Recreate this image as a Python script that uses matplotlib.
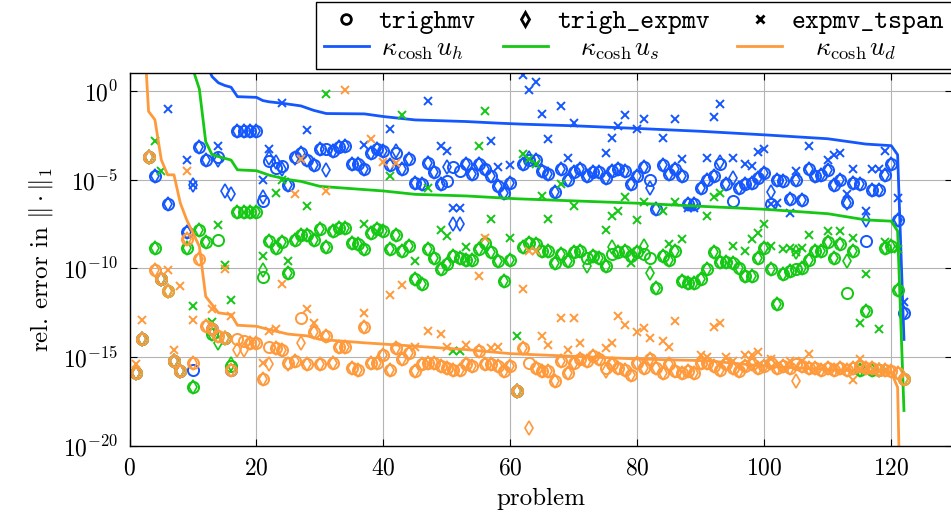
import numpy as np
import matplotlib
matplotlib.use('Agg')
import matplotlib.pyplot as plt
from matplotlib.lines import Line2D
from matplotlib.font_manager import FontProperties

nan = np.nan

# problem index
problems = np.arange(1, 123)

# log10 of relative errors
# u_h (blue)
uh_trighmv = [
    -15.9, -14.0, -3.75, -4.78, -10.6, -6.38, -15.2, -15.8, -7.97, -15.7,
    -3.17, -3.9, -13.4, -3.7, -13.9, -15.7, -2.29, -2.29, -2.29, -2.29,
    -6.23, -3.97, -4.35, -4.26, -5.3, -3.7, -3.5, -3.9, -4.2, -3.25,
    -3.3, -3.4, -3.15, -3.1, -4.1, -4.1, -4.4, -3.5, -3.3, -3.4,
    -4.2, -3.5, -4.4, -3.85, -5.17, -5.26, -4.04, -4.6, -5.26, -5.07,
    -4.3, -4.5, -4.1, -4.7, -4.1, -4.4, -4.8, -5.36, -5.77, -5.17,
    -16.9, -4.14, -3.9, -3.9, -4.5, -4.7, -5.7, -4.4, -5.0, -4.6,
    -4.4, -4.8, -4.6, -4.6, -4.9, -4.5, -4.4, -4.5, -5.26, -4.8,
    -4.3, -5.0, -6.67, -4.2, -4.7, -4.4, -4.8, -6.4, -6.4, -5.45,
    -5.0, -4.8, -4.14, -5.26, -6.2, -5.45, -5.26, -5.17, -4.9, -4.64,
    -6.4, -5.0, -5.1, -6.07, -5.0, -6.15, -4.4, -4.8, -4.75, -4.45,
    -5.3, -5.05, -6.25, -5.2, -5.27, -8.46, -5.57, -5.57, -4.72, -4.1,
    -7.25, -12.5]
uh_trigh_expmv = [
    -15.9, -14.0, -3.75, -4.78, -10.6, -6.38, -15.2, -15.8, -7.97, -5.3,
    -3.17, -3.9, -13.4, -3.88, -5.63, -5.82, -2.29, -2.29, -2.29, -2.29,
    -6.0, -3.8, -4.0, -4.4, -5.3, -3.8, -3.5, -3.9, -4.2, -3.25,
    -4.45, -3.4, -3.15, -3.1, -4.1, -4.1, -4.4, -3.5, -3.3, -3.4,
    -4.2, -3.4, -4.4, -3.85, -5.17, -5.26, -4.04, -4.6, -5.26, -4.3,
    -7.5, -7.5, -4.1, -4.7, -4.1, -4.4, -4.8, -5.36, -5.77, -5.17,
    -16.9, -4.14, -3.8, -3.9, -4.5, -4.7, -5.7, -4.4, -5.0, -4.6,
    -4.4, -4.8, -4.6, -4.6, -4.9, -4.5, -4.4, -4.5, -5.26, -4.8,
    -4.3, -5.45, -6.67, -4.2, -4.7, -4.4, -4.8, -6.4, -6.4, -5.45,
    -5.0, -4.8, -4.0, -5.26, -4.9, -5.45, -5.26, -5.17, -4.9, -4.64,
    -5.7, -5.0, -5.1, -6.07, -5.0, -6.15, -4.4, -4.8, -4.75, -4.45,
    -5.3, -5.05, -6.3, -5.2, -5.27, -7.25, -5.57, -5.57, -4.72, -4.1,
    -7.25, -12.5]
uh_expmv_tspan = [
    nan, nan, nan, nan, nan, -1.0, nan, nan, -3.9, -5.3,
    nan, nan, nan, -3.1, nan, nan, nan, nan, nan, nan,
    -5.0, -3.3, nan, -0.7, nan, nan, nan, -2.2, nan, nan,
    nan, nan, nan, nan, nan, nan, -3.06, nan, nan, nan,
    -2.16, nan, nan, nan, nan, nan, -0.56, nan, -3.1, -3.38,
    -6.58, -6.58, nan, nan, nan, nan, -2.82, -4.3, nan, -4.2,
    nan, 0.88, 0.06, 0.5, -1.3, -2.7, nan, -0.88, -3.76, -1.8,
    nan, nan, nan, nan, -3.5, -2.63, -1.97, -1.37, nan, -2.16,
    -1.6, nan, nan, -2.63, nan, -1.6, -3.85, -6.6, -6.6, nan,
    -3.76, -1.5, -0.75, nan, -3.76, nan, -4.14, -4.23, -3.44, -3.3,
    -6.4, -6.3, nan, -6.9, -4.5, nan, -3.1, nan, nan, -3.9,
    -3.6, -3.5, -5.83, -4.4, nan, -6.77, -4.4, -4.4, -3.4, nan,
    -6.03, -11.9]

# u_s (green)
us_trighmv = [
    -15.9, -14.0, -3.75, -8.86, -10.6, -11.3, -15.2, -15.8, -8.86, -16.7,
    -7.86, -8.54, -13.7, -8.4, -13.9, -15.5, -6.85, -6.85, -6.85, -6.85,
    -10.5, -8.44, -8.86, -8.5, -10.26, -8.4, -8.1, -8.1, -8.4, -7.8,
    -8.8, -7.9, -7.7, -7.7, -8.55, -8.65, -8.9, -8.0, -7.8, -7.9,
    -8.9, -8.1, -9.0, -8.75, -10.6, -10.9, -8.9, -9.4, -10.06, -9.77,
    -9.3, -9.4, -9.5, -9.5, -8.9, -8.55, -9.1, -9.6, -10.7, -9.5,
    -16.9, -8.8, -8.55, -8.6, -9.0, -9.0, -9.7, -9.2, -9.6, -9.1,
    -9.0, -9.4, -9.3, -9.4, -9.87, -9.2, -9.1, -9.0, -9.3, -9.1,
    -9.2, -9.4, -11.1, -9.3, -9.5, -9.0, -10.7, -10.8, -10.8, -10.6,
    -10.06, -9.08, -9.64, -9.64, -9.68, -9.96, -10.4, -10.4, -9.4, -8.83,
    -10.06, -12.0, -10.34, -10.15, -10.06, -9.96, -9.5, -9.0, -9.0, -8.52,
    -9.4, -8.65, -11.37, -9.03, -15.7, -12.4, -15.7, -15.7, -8.84, -8.75,
    -11.24, -16.2]
us_trigh_expmv = [
    -15.9, -14.0, -3.75, -8.86, -10.6, -11.3, -15.2, -15.8, -8.86, -16.7,
    -7.86, -8.54, -13.7, -14.2, -13.9, -15.4, -6.85, -6.85, -6.85, -6.85,
    -10.1, -8.44, -8.86, -8.5, -10.26, -8.4, -8.1, -8.1, -8.4, -7.8,
    -8.8, -7.9, -7.7, -7.7, -8.55, -8.65, -8.9, -8.0, -7.8, -7.9,
    -8.9, -8.1, -9.0, -8.75, -10.6, -10.9, -8.9, -9.4, -10.06, -9.77,
    -9.3, -9.4, -9.5, -9.5, -8.9, -8.55, -9.1, -9.6, -10.7, -9.5,
    -16.9, -8.8, -8.55, -8.6, -9.0, -9.0, -9.7, -9.2, -9.6, -9.1,
    -9.0, -9.87, -9.3, -9.4, -9.87, -8.8, -9.1, -9.0, -9.3, -9.1,
    -8.74, -10.25, -11.1, -9.3, -9.5, -9.0, -10.7, -10.8, -10.8, -10.6,
    -10.06, -9.08, -9.64, -9.64, -9.68, -9.96, -10.4, -10.4, -9.4, -8.83,
    -10.06, -12.0, -10.34, -10.15, -9.1, -9.96, -9.5, -9.0, -9.0, -8.52,
    -9.4, -8.65, -9.6, -9.03, -15.7, -12.4, -15.7, -15.7, -8.84, -8.75,
    -11.24, -16.2]
us_expmv_tspan = [
    nan, nan, nan, -2.85, -4.54, nan, nan, nan, nan, -12.1,
    nan, nan, -13.0, -7.54, -9.8, -11.8, nan, nan, nan, nan,
    -9.3, nan, -5.73, -5.0, -9.6, nan, nan, -6.5, nan, nan,
    -0.2, nan, nan, nan, nan, nan, -7.5, nan, nan, nan,
    -4.8, nan, -1.37, nan, -9.6, nan, -5.5, nan, -7.84, -8.2,
    -14.66, -14.66, -8.8, nan, -3.1, -1.13, -7.2, nan, nan, -8.3,
    -13.8, -3.57, -3.85, -4.1, -5.9, -7.2, nan, -5.26, nan, -6.5,
    nan, nan, nan, nan, -7.84, -7.05, -6.77, -5.96, -9.7, -7.27,
    -6.26, nan, nan, -6.77, -8.65, -6.26, -8.37, nan, nan, nan,
    -7.05, -6.0, -5.77, nan, -8.74, nan, -9.0, -8.36, -8.0, -7.5,
    -8.74, nan, -8.93, -8.83, -9.1, -8.83, -8.14, nan, nan, -7.9,
    nan, -7.9, nan, -8.3, -13.06, -10.3, nan, -13.44, -8.5, nan,
    -8.93, nan]

# u_d (orange)
ud_trighmv = [
    -15.9, -14.0, -3.75, -10.1, -10.6, -11.3, -15.2, -15.8, -8.33, -15.3,
    -9.46, -13.26, -13.4, -13.8, -13.9, -15.7, -14.0, -14.1, -14.2, -14.2,
    -16.2, -14.4, -14.5, -14.6, -15.3, -15.2, -12.8, -15.4, -13.6, -15.4,
    -13.8, -15.3, -14.4, -14.4, -15.6, -15.7, -13.3, -15.3, -15.3, -14.9,
    -15.7, -14.5, -15.1, -14.75, -15.8, -15.4, -15.3, -15.3, -15.5, -15.6,
    -15.7, -15.7, -15.4, -15.5, -14.66, -15.4, -15.4, -15.5, -15.8, -15.5,
    -16.9, -14.5, -15.3, -15.6, -15.8, -15.8, -16.35, -15.2, -15.9, -15.3,
    -15.1, -15.2, -14.95, -15.1, -15.6, -15.4, -15.6, -15.7, -16.0, -15.3,
    -15.6, -15.1, -15.6, -15.9, -15.4, -15.8, -15.9, -15.8, -15.9, -15.3,
    -15.3, -15.5, -15.7, -15.4, -15.6, -15.8, -15.5, -15.4, -15.6, -15.5,
    -15.3, -15.6, -15.5, -15.6, -15.4, -15.5, -15.6, -15.6, -15.7, -15.6,
    -15.7, -15.6, -15.7, -15.6, -15.5, -15.6, -15.6, -15.7, -15.7, -15.8,
    -15.9, -16.2]
ud_trigh_expmv = [
    -15.9, -14.0, -3.75, -10.1, -10.6, -11.3, -15.2, -15.8, -8.33, -15.3,
    -9.46, -13.26, -13.4, -13.8, -13.9, -15.7, -14.6, -14.6, -14.2, -14.2,
    -16.2, -15.4, -14.5, -14.6, -15.4, -15.2, -14.2, -15.4, -13.6, -15.4,
    -13.8, -15.3, -14.4, -14.4, -15.6, -15.7, -13.3, -15.3, -15.3, -14.9,
    -15.7, -14.5, -15.1, -14.75, -15.8, -15.4, -15.3, -15.3, -15.5, -15.6,
    -15.7, -15.7, -15.4, -15.5, -14.66, -15.4, -15.4, -15.5, -15.8, -15.5,
    -16.9, -14.5, -19.0, -15.6, -15.8, -15.8, -16.35, -15.2, -15.9, -15.3,
    -15.1, -15.2, -14.95, -15.1, -15.8, -15.4, -15.6, -15.7, -16.0, -15.3,
    -15.6, -15.1, -15.6, -15.9, -15.4, -15.8, -15.9, -15.8, -15.9, -15.3,
    -15.3, -15.5, -15.7, -15.4, -15.6, -15.8, -15.5, -15.4, -15.6, -15.5,
    -15.3, -15.6, -15.5, -15.6, -16.35, -15.5, -15.6, -15.6, -15.7, -15.6,
    -15.7, -15.6, -15.7, -15.6, -15.5, -15.6, -15.6, -15.7, -15.7, -15.8,
    -15.9, -16.2]
ud_expmv_tspan = [
    -15.4, -12.9, nan, nan, nan, -10.1, -14.6, -11.0, -4.54, -12.9,
    nan, nan, -12.3, nan, -10.04, -12.7, nan, nan, nan, nan,
    -15.3, -13.5, -13.4, -10.9, nan, -5.8, -3.85, -12.3, -13.06, nan,
    -5.64, nan, nan, 0.06, nan, nan, -12.5, -2.72, nan, -4.0,
    -11.5, -4.04, -10.96, nan, -14.4, nan, -13.5, nan, -13.7, -14.4,
    nan, nan, -14.3, nan, -10.4, -8.27, -14.5, -14.4, nan, nan,
    nan, -11.15, -9.0, -9.0, -13.8, -14.3, nan, -12.8, -14.6, -12.8,
    -14.2, nan, nan, nan, -14.5, -14.2, -12.7, -13.2, nan, -13.6,
    -13.35, -13.9, nan, -14.1, -14.4, -12.97, nan, nan, nan, -14.85,
    -15.0, -13.3, -13.1, -15.0, -15.2, nan, -14.9, -14.9, -14.7, nan,
    -15.1, nan, nan, -15.2, nan, -15.2, -14.8, nan, nan, nan,
    nan, nan, nan, -16.3, -15.1, nan, nan, nan, nan, nan,
    nan, nan]

# kappa_cosh * u curves (vertices)
kh_p = [12, 13, 14, 15, 16, 17, 20, 21, 22, 24, 27, 29, 31, 37, 40, 45, 53, 58,
        62, 70, 80, 90, 100, 110, 116, 120, 121, 122]
kh_e = [1.6, 0.8, 0.45, 0.3, 0.2, -0.33, -0.37, -0.55, -0.62, -0.7, -0.85, -1.1,
        -1.28, -1.3, -1.45, -1.64, -1.73, -1.82, -1.88, -1.97, -2.12, -2.28,
        -2.48, -2.7, -3.0, -3.09, -3.6, -14.0]
ks_p = [10, 11, 12, 13, 16, 17, 20, 22, 25, 27, 30, 40, 45, 53, 61, 80, 91, 100,
        110, 116, 120, 121, 122]
ks_e = [1.2, 0.1, -2.86, -3.6, -3.9, -4.45, -4.5, -4.75, -5.0, -5.1, -5.38, -5.64,
        -5.83, -5.92, -6.08, -6.33, -6.52, -6.67, -6.92, -7.27, -7.34, -7.9, -18.0]
kd_p = [2, 3, 4, 5, 6, 7, 8, 9, 11, 12, 14, 16, 17, 20, 22, 25, 28, 30, 37, 45,
        53, 60, 80, 91, 100, 110, 120, 121, 122]
kd_e = [5.0, -1.16, -1.63, -3.88, -4.73, -4.73, -6.32, -7.26, -8.76, -11.58, -12.5,
        -12.6, -13.2, -13.26, -13.45, -13.7, -13.8, -14.0, -14.19, -14.38, -14.57,
        -14.8, -15.1, -15.2, -15.5, -15.7, -15.85, -16.7, -33.0]

blue = '#1457ff'
green = '#14c814'
orange = '#ff9a3c'

plt.rcParams['mathtext.fontset'] = 'cm'
plt.rcParams['font.family'] = 'serif'
plt.rcParams['font.serif'] = ['cmr10', 'DejaVu Serif']
plt.rcParams['axes.formatter.use_mathtext'] = True


def v(e):
    return 10.0 ** np.asarray(e, dtype=float)


fig = plt.figure(figsize=(9.51, 5.18), dpi=100)
ax = fig.add_axes([0.1362, 0.139, 0.8644, 0.720])

series = [
    (blue, uh_trighmv, uh_trigh_expmv, uh_expmv_tspan, kh_p, kh_e),
    (green, us_trighmv, us_trigh_expmv, us_expmv_tspan, ks_p, ks_e),
    (orange, ud_trighmv, ud_trigh_expmv, ud_expmv_tspan, kd_p, kd_e),
]
for col, c_o, c_d, c_x, lp, le in series:
    ax.plot(problems, v(c_o), ls='none', marker='o', ms=8, mfc='none',
            mec=col, mew=1.4)
    ax.plot(problems, v(c_d), ls='none', marker='d', ms=7, mfc='none',
            mec=col, mew=1.2)
    ax.plot(problems, v(c_x), ls='none', marker='x', ms=6, mec=col, mew=1.4)
    ax.plot(lp, v(le), color=col, lw=2)

ax.set_yscale('log')
ax.set_xlim(0, 129.5)
ax.set_ylim(1e-20, 1e1)
ax.set_xticks([0, 20, 40, 60, 80, 100, 120])
ax.set_yticks([1e-20, 1e-15, 1e-10, 1e-5, 1e0])
ax.minorticks_off()
ax.grid(True, color='#b4b4b4', lw=0.8)
ax.set_axisbelow(True)
ax.tick_params(direction='in', top=True, right=True, length=5, labelsize=17,
               pad=8)
for s in ax.spines.values():
    s.set_linewidth(1.0)
ax.set_xlabel('problem', fontsize=18, labelpad=6)
ax.set_ylabel(r'rel. error in $\|\cdot\|_1$', fontsize=18, labelpad=6)

handles = [
    Line2D([], [], ls='none', marker='o', ms=7, mfc='none', mec='k', mew=2),
    Line2D([], [], color=blue, lw=2),
    Line2D([], [], ls='none', marker='d', ms=7, mfc='none', mec='k', mew=2),
    Line2D([], [], color=green, lw=2),
    Line2D([], [], ls='none', marker='x', ms=6, mec='k', mew=2),
    Line2D([], [], color=orange, lw=2),
]
labels = ['trighmv', r'$\,\kappa_{\cosh}u_h$', 'trigh_expmv',
          r'$\quad\kappa_{\cosh}u_s$', 'expmv_tspan', r'$\quad\kappa_{\cosh}u_d$']
leg = fig.legend(handles, labels, ncol=3, loc='center left',
                 bbox_to_anchor=(0.3323, 0.8668, 0.6687, 0.1293), mode='expand',
                 prop=FontProperties(family='cmtt10', size=19),
                 fancybox=False, edgecolor='k', framealpha=1,
                 borderaxespad=0, handlelength=1.7, handletextpad=0.35,
                 labelspacing=0.1, borderpad=0.3)
leg.get_frame().set_linewidth(1.0)

fig.savefig('out.png', dpi=100)
